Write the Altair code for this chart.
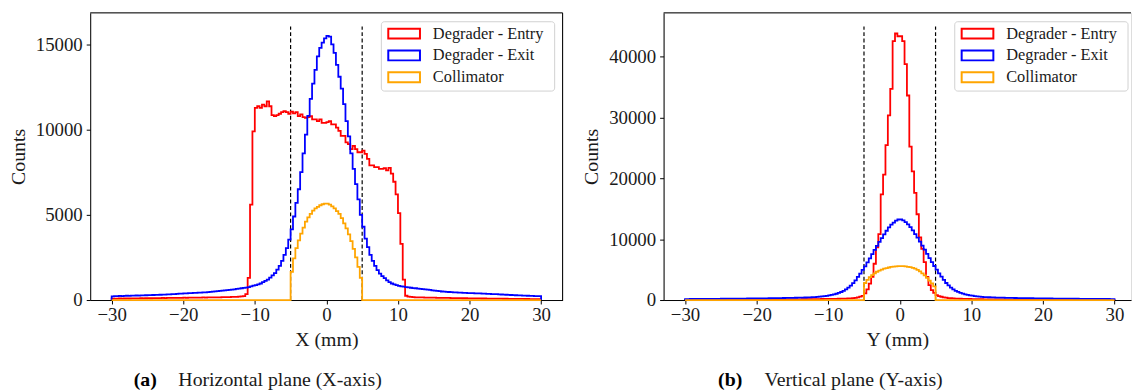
import altair as alt
import pandas as pd

# ---------------- data ----------------
N_BINS = 180                     # 1/3 mm bins over [-30, 30]
X_MIN, X_MAX = -30.0, 30.0
SERIES = ["Degrader - Entry", "Degrader - Exit", "Collimator"]
COLORS = ["#ff0000", "#0000ff", "#ffa500"]
X_TICKS = [-30, -20, -10, 0, 10, 20, 30]
APERTURE = [-5, 5]

# Horizontal plane (X)
x_entry = [
    80, 85, 80, 90, 85, 90, 95, 90, 95, 100, 95, 100, 105, 100, 105, 110, 105, 110, 115, 110,
    115, 120, 115, 120, 125, 120, 125, 130, 125, 130, 135, 130, 135, 140, 135, 140, 145, 140, 150, 145,
    150, 155, 150, 160, 155, 160, 165, 170, 165, 175, 180, 185, 190, 200, 210, 230,
    350, 1300, 5600, 9900,
    11270, 11370, 11270, 11460, 11370, 11660, 11370, 10850, 10790, 10850,
    10930, 11020, 11080, 11020, 10930, 11050, 10950, 11020, 10790, 10890,
    10730, 10690, 10730, 10790, 10600, 10600, 10500, 10600, 10400, 10400,
    10440, 10500, 10310, 10310, 10120, 9920, 9630, 9630, 9250, 9150,
    8860, 9050, 8860, 8670, 8670, 8760, 8570, 8280, 7900, 7900,
    7800, 7800, 7700, 7700, 7740, 7610, 7750, 7420, 6940, 6200,
    5100, 3300, 1200, 250,
    200, 180, 170, 160, 155, 150, 150, 145, 140, 140, 135, 135, 130, 130, 125, 125, 120, 120, 115, 115,
    110, 110, 108, 105, 105, 100, 100, 98, 95, 95, 92, 90, 90, 88, 85, 85, 82, 80, 80, 78,
    75, 75, 72, 70, 70, 68, 65, 65, 62, 60, 60, 58, 55, 55, 52, 50,
]
x_exit = [
    220, 230, 225, 240, 235, 245, 250, 245, 255, 260, 265, 260, 270, 275, 280, 285, 290, 295, 300, 305,
    310, 315, 320, 330, 335, 345, 350, 360, 370, 380,
    390, 395, 400, 410, 415, 425, 430, 440, 450, 455, 465, 480, 495, 510, 525,
    540, 555, 570, 585, 600, 615, 630, 650, 670, 690, 710, 730,
    760, 800, 840,
    870, 920, 970, 1050, 1130, 1200, 1320, 1450, 1580, 1780,
    2000, 2300, 2650, 3050, 3550, 4150, 4900, 5700, 6500, 7500,
    8600, 9700, 10800, 11800, 12700, 13500, 14300, 14800, 15100, 15350,
    15500, 15450, 15000, 14500, 13800, 13100, 12400, 11500, 10500, 9600,
    8600, 7700, 6800, 5900, 5000, 4300, 3600, 3100, 2650, 2300,
    2000, 1750, 1550, 1400, 1280, 1150, 1050, 970, 920, 870,
    830, 800, 780, 760, 740, 720,
    700, 690, 670, 655, 640, 620, 605, 590, 570, 555, 540, 520, 500,
    490, 480, 470, 460, 455, 445, 440, 430, 425, 420, 410, 405, 400, 395, 390,
    385, 380, 370, 365, 360, 350, 345, 340, 330, 325, 315, 310, 300, 295, 290, 280, 275, 270, 260, 255,
    250, 245, 240, 235, 230, 225,
]
x_coll = [
    0, 0, 0, 0, 0, 0, 0, 0, 0, 0, 0, 0, 0, 0, 0,
    0, 0, 0, 0, 0, 0, 0, 0, 0, 0, 0, 0, 0, 0, 0,
    0, 0, 0, 0, 0, 0, 0, 0, 0, 0, 0, 0, 0, 0, 0,
    0, 0, 0, 0, 0, 0, 0, 0, 0, 0, 0, 0, 0, 0, 0,
    0, 0, 0, 0, 0, 0, 0, 0, 0, 0, 0, 0, 0, 0, 0,
    1650, 2450, 3050, 3500, 3900, 4250, 4600, 4850, 5050, 5250,
    5380, 5470, 5560, 5620, 5660, 5650, 5600, 5500, 5380, 5220,
    5050, 4800, 4500, 4200, 3850, 3450, 3000, 2500, 1950, 1300,
    0, 0, 0, 0, 0, 0, 0, 0, 0, 0, 0, 0, 0, 0, 0,
    0, 0, 0, 0, 0, 0, 0, 0, 0, 0, 0, 0, 0, 0, 0,
    0, 0, 0, 0, 0, 0, 0, 0, 0, 0, 0, 0, 0, 0, 0,
    0, 0, 0, 0, 0, 0, 0, 0, 0, 0, 0, 0, 0, 0, 0,
    0, 0, 0, 0, 0, 0, 0, 0, 0, 0, 0, 0, 0, 0, 0,
]

# Vertical plane (Y)
y_entry = [
    40, 40, 42, 42, 44, 44, 45, 46, 46, 48, 48, 50, 50, 52, 52, 54, 55, 56, 57, 58,
    60, 60, 62, 63, 64, 66, 67, 68, 70, 72, 74, 75, 77, 79, 80, 82, 85, 87, 90, 92,
    95, 98, 100, 104, 108, 112, 116, 120, 125, 130, 135, 140, 145, 150, 155, 160, 165, 170, 175, 180,
    185, 190, 195, 200, 210, 220, 230, 240, 255, 270, 300, 350, 430, 560,
    700, 1090, 1740, 2710, 3800, 5970, 8680, 10850, 17370, 20620,
    25500, 30390, 34730, 42600, 43850, 43400, 43400, 42600, 38800, 33650,
    25240, 21170, 17640, 14110, 10310, 8410, 6240, 3800, 2440, 1630,
    1190,
    810, 650, 540, 450, 380, 330, 290, 260, 240, 225, 210, 200, 190, 180, 170,
    160, 150, 142, 135, 128, 122, 116, 110, 105, 100, 96, 92, 88, 85, 82, 79, 76, 74, 72, 70,
    68, 66, 64, 62, 60, 59, 58, 57, 56, 55, 54, 53, 52, 51, 50, 49, 48, 47, 47, 46,
    46, 45, 45, 44, 44, 43, 43, 42, 42, 41, 41, 41, 40, 40, 40, 39, 39, 39, 38, 38,
]
y_exit = [
    160, 164, 168, 172, 175, 178, 181, 184, 187, 190, 193, 196, 199, 202, 205, 208, 211, 214, 217, 221,
    225, 229, 233, 237, 241, 245, 249, 254, 259, 264, 269, 274, 279, 284, 289, 294, 299, 305, 312, 319,
    326, 333, 341, 349, 357, 366, 375, 385, 395, 405, 418, 431, 448, 465,
    485, 515, 555, 595, 645, 700, 770, 840, 920, 1030,
    1160, 1320, 1510, 1740, 2030, 2380, 2780, 3250, 3800, 4350,
    4950, 5550, 6200, 6850, 7550, 8250, 8900, 9550, 10200, 10800,
    11400, 11950, 12400, 12750, 13050, 13250,
    13280, 13100, 12800, 12450, 12000, 11450, 10850, 10250, 9600, 8950,
    8300, 7600, 6900, 6250, 5600, 5000, 4400, 3850, 3300, 2800,
    2400, 2050, 1750, 1520, 1330, 1170, 1040, 930, 850, 780,
    710, 650, 600, 560, 520, 490,
    470, 455, 440, 425, 410, 400, 390, 380, 370, 360, 350, 342, 335, 328, 320, 313, 306, 300, 295, 290,
    285, 280, 275, 270, 265, 260, 255, 250, 246, 242, 238, 234, 230, 226, 222, 218, 215, 212, 209, 206,
    203, 200, 197, 194, 191, 188, 185, 182, 179, 176, 173, 170, 166, 162,
]
y_coll = [
    0, 0, 0, 0, 0, 0, 0, 0, 0, 0, 0, 0, 0, 0, 0,
    0, 0, 0, 0, 0, 0, 0, 0, 0, 0, 0, 0, 0, 0, 0,
    0, 0, 0, 0, 0, 0, 0, 0, 0, 0, 0, 0, 0, 0, 0,
    0, 0, 0, 0, 0, 0, 0, 0, 0, 0, 0, 0, 0, 0, 0,
    0, 0, 0, 0, 0, 0, 0, 0, 0, 0, 0, 0, 0, 0, 0,
    2800, 3300, 3750, 4100, 4400, 4650, 4850, 5000, 5150, 5250,
    5350, 5450, 5500, 5550, 5560, 5580, 5560, 5520, 5470, 5400,
    5300, 5150, 4950, 4700, 4400, 4050, 3650, 3200, 2750, 2250,
    0, 0, 0, 0, 0, 0, 0, 0, 0, 0, 0, 0, 0, 0, 0,
    0, 0, 0, 0, 0, 0, 0, 0, 0, 0, 0, 0, 0, 0, 0,
    0, 0, 0, 0, 0, 0, 0, 0, 0, 0, 0, 0, 0, 0, 0,
    0, 0, 0, 0, 0, 0, 0, 0, 0, 0, 0, 0, 0, 0, 0,
    0, 0, 0, 0, 0, 0, 0, 0, 0, 0, 0, 0, 0, 0, 0,
]

X_YTICKS = [0, 5000, 10000, 15000]
Y_YTICKS = [0, 10000, 20000, 30000, 40000]
X_YMAX, X_DASH_TOP = 16850, 16050
Y_YMAX, Y_DASH_TOP = 47250, 45000

for _name, _arr in [("x_entry", x_entry), ("x_exit", x_exit), ("x_coll", x_coll),
                    ("y_entry", y_entry), ("y_exit", y_exit), ("y_coll", y_coll)]:
    if len(_arr) != N_BINS:
        raise SystemExit(f"{_name} has {len(_arr)} values")

# ---------------- styling ----------------
FONT = "Liberation Serif"
TXT = "#1a1a1a"
H = 290
W_LEFT = 477
W_RIGHT = 472
PX_PER_MM = W_LEFT / 66.0


def step_frame(series_values):
    rows = []
    w = (X_MAX - X_MIN) / N_BINS
    for name, vals in zip(SERIES, series_values):
        pts = [(X_MIN, 0.0)] + [(X_MIN + i * w, float(v)) for i, v in enumerate(vals)] + [(X_MAX, 0.0)]
        for k, (xx, yy) in enumerate(pts):
            rows.append({"x": xx, "y": yy, "series": name, "idx": k})
    return pd.DataFrame(rows)


def panel(vals, width, ymax, dash_top, yticks, xtitle, tag, caption, tag_x, cap_x, right_frame):
    xdomain = [-33.0, -33.0 + width / PX_PER_MM]
    xs = alt.Scale(domain=xdomain, nice=False, zero=False)
    ys = alt.Scale(domain=[0, ymax], nice=False, zero=False)
    x_axis = alt.Axis(values=X_TICKS, format="d", title=xtitle, grid=False,
                      labelFont=FONT, labelFontSize=19, labelColor=TXT, labelPadding=2,
                      titleFont=FONT, titleFontSize=20, titleColor=TXT, titleFontWeight="normal",
                      titlePadding=5, tickColor="black", tickWidth=1, tickSize=4,
                      domainColor="black", domainWidth=1)
    y_axis = alt.Axis(values=yticks, format="d", title="Counts", grid=False,
                      labelFont=FONT, labelFontSize=19, labelColor=TXT, labelPadding=4,
                      titleFont=FONT, titleFontSize=20, titleColor=TXT, titleFontWeight="normal",
                      titlePadding=7, tickColor="black", tickWidth=1, tickSize=4,
                      domainColor="black", domainWidth=1)
    xe = alt.X("x:Q", scale=xs, axis=x_axis)
    ye = alt.Y("y:Q", scale=ys, axis=y_axis)

    df = step_frame(vals)
    dash_df = pd.DataFrame({"x": APERTURE, "y": [0, 0], "y2": [dash_top, dash_top]})

    dashes = alt.Chart(dash_df).mark_rule(color="black", strokeWidth=1.2, strokeDash=[4, 2.5]).encode(
        x=xe, y=ye, y2="y2:Q")
    hist = alt.Chart(df).mark_line(interpolate="step-after", strokeWidth=1.8).encode(
        x=xe, y=ye,
        color=alt.Color("series:N", scale=alt.Scale(domain=SERIES, range=COLORS), legend=None),
        order=alt.Order("idx:Q"),
    )
    one = pd.DataFrame({"k": [0]})
    layers = [dashes, hist]
    # top frame line (and right one for the left panel)
    layers.append(alt.Chart(one).mark_rule(color="black", strokeWidth=1).encode(
        x=alt.value(0), x2=alt.value(width), y=alt.value(0)))
    if right_frame:
        layers.append(alt.Chart(one).mark_rule(color="black", strokeWidth=1).encode(
            x=alt.value(width), y=alt.value(0), y2=alt.value(H)))
    # legend (drawn like matplotlib's framed legend)
    layers.append(alt.Chart(one).mark_rect(fill="white", fillOpacity=0.85, stroke="#d0d0d0",
                                           strokeWidth=1, cornerRadius=3).encode(
        x=alt.value(294), x2=alt.value(469), y=alt.value(9), y2=alt.value(79)))
    for k, (name, col) in enumerate(zip(SERIES, COLORS)):
        ldf = pd.DataFrame({"series": [name]})
        layers.append(alt.Chart(ldf).mark_rect(filled=False, stroke=col, strokeWidth=2).encode(
            x=alt.value(301), x2=alt.value(333), y=alt.value(16 + 22 * k), y2=alt.value(26 + 22 * k)))
        layers.append(alt.Chart(ldf).mark_text(align="left", baseline="middle", font=FONT,
                                               fontSize=16.5, color=TXT).encode(
            x=alt.value(346), y=alt.value(21 + 22 * k), text="series:N"))
    # caption below the panel
    cdf = pd.DataFrame({"tag": [tag], "caption": [caption]})
    layers.append(alt.Chart(cdf).mark_text(align="left", baseline="middle", font=FONT, fontSize=20,
                                           fontWeight="bold", color="black").encode(
        x=alt.value(tag_x), y=alt.value(371), text="tag:N"))
    layers.append(alt.Chart(cdf).mark_text(align="left", baseline="middle", font=FONT, fontSize=20,
                                           color=TXT).encode(
        x=alt.value(cap_x), y=alt.value(371), text="caption:N"))
    return alt.layer(*layers).properties(width=width, height=H)


left = panel([x_entry, x_exit, x_coll], W_LEFT, X_YMAX, X_DASH_TOP, X_YTICKS, "X (mm)",
             "(a)", "Horizontal plane (X-axis)", 44, 89, True)
right = panel([y_entry, y_exit, y_coll], W_RIGHT, Y_YMAX, Y_DASH_TOP, Y_YTICKS, "Y (mm)",
              "(b)", "Vertical plane (Y-axis)", 55, 102, False)

chart = alt.hconcat(left, right, spacing=102, bounds="flush").properties(
    padding={"left": 0, "top": 2, "right": 0, "bottom": 0}
).configure_view(stroke=None).configure(background="white")

chart.save("out.html", embed_options={"renderer": "svg", "actions": False})
